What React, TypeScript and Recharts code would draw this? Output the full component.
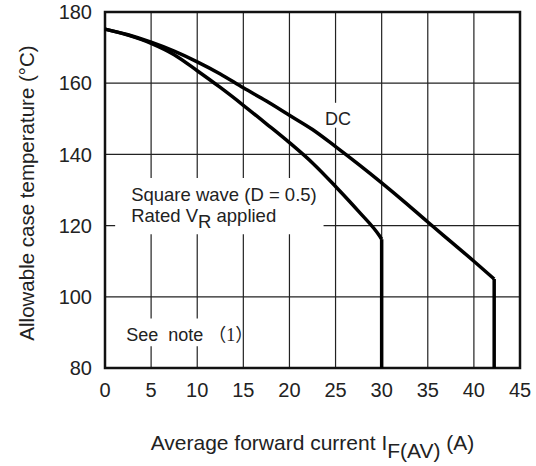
import { LineChart, Line, XAxis, YAxis, CartesianGrid, ReferenceArea } from 'recharts';

const xTicks = [0, 5, 10, 15, 20, 25, 30, 35, 40, 45];
const yTicks = [80, 100, 120, 140, 160, 180];

// DC curve
const dcCurve = [
  { a: 0, t: 175.2 },
  { a: 2.5, t: 173.6 },
  { a: 5, t: 171.5 },
  { a: 7.5, t: 169 },
  { a: 10, t: 166 },
  { a: 12.5, t: 162.6 },
  { a: 15, t: 158.7 },
  { a: 17.5, t: 155 },
  { a: 20, t: 151 },
  { a: 22.5, t: 147 },
  { a: 25, t: 142.2 },
  { a: 27.5, t: 137.2 },
  { a: 30, t: 132 },
  { a: 32.5, t: 126.6 },
  { a: 35, t: 121 },
  { a: 37.5, t: 115.5 },
  { a: 40, t: 110 },
  { a: 42.2, t: 105 },
];
const dcDrop = [
  { a: 42.2, t: 105 },
  { a: 42.2, t: 80 },
];

// square wave (D = 0.5)
const squareCurve = [
  { a: 0, t: 175.2 },
  { a: 2.5, t: 173.5 },
  { a: 5, t: 171.2 },
  { a: 7.5, t: 168 },
  { a: 10, t: 163.5 },
  { a: 12.5, t: 158.8 },
  { a: 15, t: 153.8 },
  { a: 17.5, t: 148.6 },
  { a: 20, t: 143.3 },
  { a: 22.5, t: 137.6 },
  { a: 25, t: 131 },
  { a: 27.5, t: 124 },
  { a: 29.8, t: 117 },
  { a: 30, t: 116.2 },
];
const squareDrop = [
  { a: 30, t: 116.2 },
  { a: 30, t: 80 },
];

const SANS = '"Liberation Sans", Arial, sans-serif';

function XTitle({ viewBox }: any) {
  const cx = viewBox.x + viewBox.width / 2;
  const y = viewBox.y + 82;
  return (
    <text x={cx} y={y} textAnchor="middle" fontFamily={SANS} fontSize={21} fill="#222">
      Average forward current I
      <tspan dy={8}>F(AV)</tspan>
      <tspan dy={-8}> (A)</tspan>
    </text>
  );
}

function YTitle({ viewBox }: any) {
  const cy = viewBox.y + viewBox.height / 2 + 3;
  const x = 34;
  return (
    <text x={x} y={cy} textAnchor="middle" fontFamily={SANS} fontSize={20.5} fill="#222"
      transform={`rotate(-90 ${x} ${cy})`}>
      Allowable case temperature (°C)
    </text>
  );
}

function SquareNote({ viewBox }: any) {
  const x = viewBox.x + 16;
  const y = viewBox.y + 23;
  return (
    <text fontFamily={SANS} fontSize={18.5} fill="#222">
      <tspan x={x} y={y}>Square wave (D = 0.5)</tspan>
      <tspan x={x} y={y + 21}>Rated V</tspan>
      <tspan dy={6}>R</tspan>
      <tspan dy={-6}> applied</tspan>
    </text>
  );
}

function SeeNote({ viewBox }: any) {
  return (
    <text x={viewBox.x + 11} y={viewBox.y + 22} fontFamily={SANS} fontSize={18} fill="#222">
      {'See\u00a0\u00a0note '}
      <tspan fontFamily='"Liberation Serif", "Noto Sans CJK JP", serif'>（1）</tspan>
    </text>
  );
}

function DcNote({ viewBox }: any) {
  return (
    <text x={viewBox.x + 1} y={viewBox.y + 22} fontFamily={SANS} fontSize={18} fill="#222">
      DC
    </text>
  );
}

export default function App() {
  return (
    <div style={{ position: 'absolute', left: 0, top: 0, background: '#fff' }}>
      <LineChart width={536} height={466} margin={{ top: 12, right: 16, left: 0, bottom: 0 }}>
        <CartesianGrid stroke="#222" strokeWidth={1.2} />
        <XAxis
          dataKey="a"
          type="number"
          domain={[0, 45]}
          ticks={xTicks}
          axisLine={false}
          tickLine={false}
          tickSize={0}
          tickMargin={15}
          height={98}
          tick={{ fill: '#222', fontSize: 20, fontFamily: SANS }}
          label={{ content: XTitle }}
        />
        <YAxis
          type="number"
          domain={[80, 180]}
          ticks={yTicks}
          axisLine={false}
          tickLine={false}
          tickSize={0}
          tickMargin={13}
          width={105}
          tick={{ fill: '#222', fontSize: 20, fontFamily: SANS }}
          label={{ content: YTitle }}
        />
        <ReferenceArea x1={1.1} x2={23.7} y1={117.6} y2={133.4} fill="#fff" fillOpacity={1} stroke="none" label={{ content: SquareNote }} />
        <ReferenceArea x1={1.1} x2={14.6} y1={86.1} y2={93.9} fill="#fff" fillOpacity={1} stroke="none" label={{ content: SeeNote }} />
        <ReferenceArea x1={23.75} x2={26.6} y1={147.5} y2={154.5} fill="#fff" fillOpacity={1} stroke="none" label={{ content: DcNote }} />
        <ReferenceArea x1={0} x2={45} y1={80} y2={180} fill="none" stroke="#111" strokeWidth={2.5} />
        <Line data={dcCurve} dataKey="t" type="monotone" stroke="#000" strokeWidth={3.5} dot={false} isAnimationActive={false} />
        <Line data={dcDrop} dataKey="t" type="linear" stroke="#000" strokeWidth={3.5} dot={false} isAnimationActive={false} />
        <Line data={squareCurve} dataKey="t" type="monotone" stroke="#000" strokeWidth={3.5} dot={false} isAnimationActive={false} />
        <Line data={squareDrop} dataKey="t" type="linear" stroke="#000" strokeWidth={3.5} dot={false} isAnimationActive={false} />
      </LineChart>
    </div>
  );
}
